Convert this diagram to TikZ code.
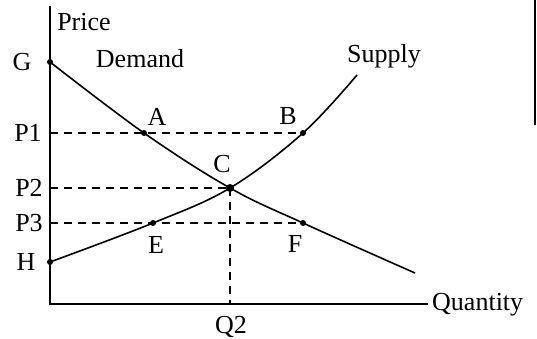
\documentclass[tikz,border=0pt]{standalone}
\usepackage{fontspec}
\setmainfont{Liberation Serif}
\usetikzlibrary{calc}

\begin{document}
\begin{tikzpicture}[x=1pt,y=-1pt,
    lbl/.style={font=\fontsize{26}{30}\selectfont, inner sep=0pt, anchor=base},
    guide/.style={dash pattern=on 8pt off 6pt, line width=1.2pt},
    curve/.style={line width=1.6pt}]
    \useasboundingbox (0,0) rectangle (537,338);

    % assi
    \coordinate (O) at (50,304);
    \coordinate (Ytop) at (50,6);
    \coordinate (Xend) at (428,304);
    \draw[line width=2pt] (Ytop) -- (O) -- (Xend);

    % punti
    \coordinate (G) at (50,62);
    \coordinate (H) at (50,262);
    \coordinate (A) at (144,133);
    \coordinate (B) at (303,133);
    \coordinate (C) at (230,188);
    \coordinate (E) at (153,223);
    \coordinate (F) at (303,223);
    \coordinate (Dend) at (415,273);
    \coordinate (Send) at (357,75);
    \coordinate (P1) at (50,133);
    \coordinate (P2) at (50,188);
    \coordinate (P3) at (50,223);
    \coordinate (Q2) at (230,304);

    % curve
    \draw[curve] plot[smooth, tension=0.6] coordinates {(G) (A) (C) (F) (Dend)};
    \draw[curve] plot[smooth, tension=0.6] coordinates {(H) (E) (C) (B) (Send)};

    % tratteggi
    \draw[guide] (P1) -- (B);
    \draw[guide] (P2) -- (C);
    \draw[guide] (P3) -- (F);
    \draw[guide] (C) -- (Q2);

    % punti marcati
    \foreach \p in {G,H,A,B,C,E,F}
        \fill (\p) circle (3pt);
    \fill (C) circle (4pt);

    % bordo
    \coordinate (R1) at (535,0);
    \coordinate (R2) at (535,125);
    \draw[line width=2pt] (R1) -- (R2);

    % etichette
    \node[lbl] (labPrice) at (84,30) {Price};
    \node[lbl, anchor=base west] (labQuantity) at (432,310) {Quantity};
    \node[lbl] (labDemand) at (140,67) {Demand};
    \node[lbl] (labSupply) at (384,62) {Supply};
    \node[lbl] (labG) at (22,70.5) {G};
    \node[lbl] (labH) at (26,270.5) {H};
    \node[lbl] (labP1) at (28,141.5) {P1};
    \node[lbl] (labP2) at (29,196.5) {P2};
    \node[lbl] (labP3) at (29,231.5) {P3};
    \node[lbl] (labA) at (157,125) {A};
    \node[lbl] (labB) at (288,124) {B};
    \node[lbl] (labC) at (222,172) {C};
    \node[lbl] (labE) at (156,253) {E};
    \node[lbl] (labF) at (295,252) {F};
    \node[lbl] (labQ2) at (231,333) {Q2};
\end{tikzpicture}
\end{document}
